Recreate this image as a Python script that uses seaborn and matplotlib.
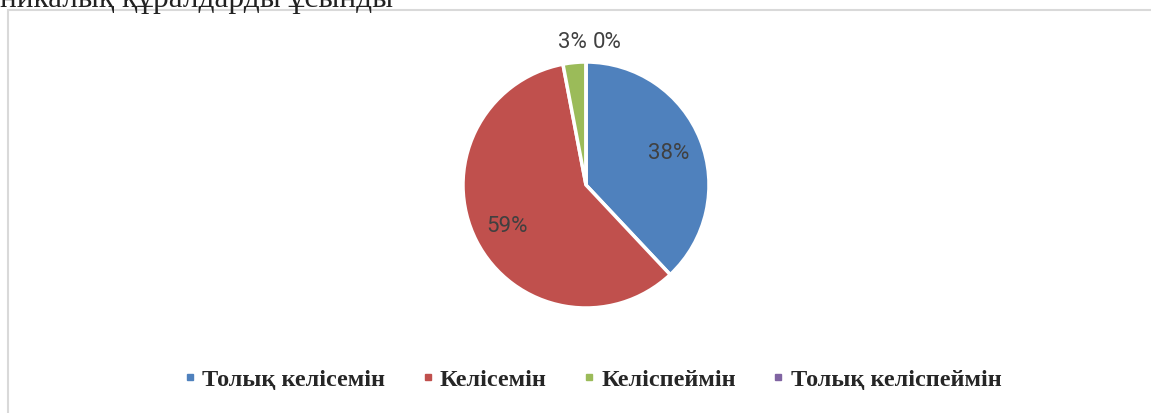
import numpy as np
import matplotlib
matplotlib.use('Agg')
import matplotlib.pyplot as plt
import seaborn as sns
from matplotlib.lines import Line2D
from matplotlib.patches import Rectangle

# data
categories = ['Толық келісемін', 'Келісемін', 'Келіспеймін', 'Толық келіспеймін']
shares = [38, 59, 3, 0]
colors = ['#4F81BD', '#C0504D', '#9BBB59', '#8064A2']
caption = 'никалық құралдарды ұсынды'

sns.set_theme(style='white')
plt.rcParams['font.family'] = ['Roboto', 'DejaVu Sans']

W, H = 1151, 414
fig = plt.figure(figsize=(W / 100, H / 100), dpi=100)

# cut-off caption line above the chart frame (clipped like in the source page)
fig.text(0 / W, 1 - 7 / H, caption, family='Liberation Serif', fontsize=22.5,
         color='#222222', ha='left', va='baseline')

# chart frame (runs past the right and bottom edges)
fig.patches.append(Rectangle((8 / W, -0.1), 1.2, 1 - 11 / H + 0.1,
                             transform=fig.transFigure, fill=False,
                             edgecolor='#D9D9D9', linewidth=1.5))

# pie axes
cx, cy, r = 586, 186, 123
ax = fig.add_axes([(cx - r) / W, (H - cy - r) / H, 2 * r / W, 2 * r / H])
wedges, texts, autotexts = ax.pie(shares, colors=colors, startangle=90, counterclock=False,
                                  autopct='%1.0f%%', pctdistance=0.72,
                                  wedgeprops=dict(edgecolor='white', linewidth=2.5),
                                  textprops=dict(fontsize=16, color='#404040'))
ax.set_xlim(-1, 1)
ax.set_ylim(-1, 1)
ax.axis('off')

# small slices: put labels outside the pie
for i, (w, t) in enumerate(zip(wedges, autotexts)):
    if shares[i] < 5:
        ang = np.deg2rad((w.theta1 + w.theta2) / 2)
        x, y = 1.17 * np.cos(ang), 1.17 * np.sin(ang)
        if shares[i] == 0:
            x += 0.17
        t.set_position((x, y))
        t.set_clip_on(False)

# legend
handles = [Line2D([], [], linestyle='none', marker='s', markersize=5,
                  markerfacecolor=c, markeredgecolor=c) for c in colors]
fig.legend(handles, categories, loc='center', bbox_to_anchor=(592 / W, 1 - 380 / H),
           ncol=4, frameon=False, handlelength=0.6, handletextpad=0.2, columnspacing=1.45,
           prop=dict(family='Liberation Serif', weight='bold', size=17.5))

plt.savefig('out.png', dpi=100)
plt.close()
